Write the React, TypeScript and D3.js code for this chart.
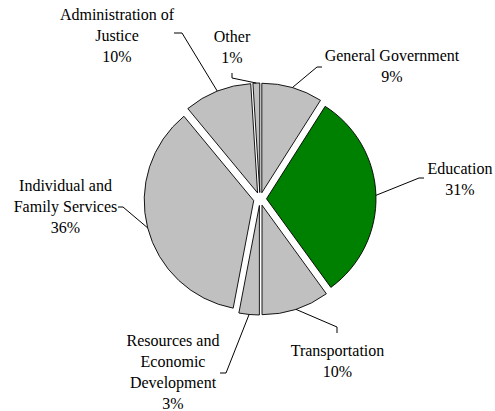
import React from "react";
import * as d3 from "d3";

const categories = [
  "General Government",
  "Education",
  "Transportation",
  "Resources and Economic Development",
  "Individual and Family Services",
  "Administration of Justice",
  "Other",
];
const values = [9, 31, 10, 3, 36, 10, 1];
const labelLines = [
  ["General Government"],
  ["Education"],
  ["Transportation"],
  ["Resources and", "Economic", "Development"],
  ["Individual and", "Family Services"],
  ["Administration of", "Justice"],
  ["Other"],
];
const highlight = "Education";

// layout (positions only)
const W = 495, H = 411;
const CX = 260, CY = 199, R = 109.5, EXPLODE = 6.5;
const LINE_H = 21.2;
const labelLayout = [
  { x: 392, y: 61, start: [322, 67], elbow: [317, 67] },
  { x: 460, y: 173.5, start: [424, 178], elbow: [419, 178] },
  { x: 337.5, y: 355.5, start: [337, 333], elbow: [337, 327] },
  { x: 173, y: 345.5, start: [220, 373], elbow: [226, 373] },
  { x: 65.5, y: 190.5, start: [118, 207], elbow: [123, 207] },
  { x: 117, y: 19.5, start: [174, 33], elbow: [182, 33] },
  { x: 232, y: 41.5, start: [232, 73], elbow: [232, 78] },
];

export default function App() {
  const pie = d3.pie<number>().sort(null).value((d) => d);
  const arcs = pie(values);
  const arcGen = d3.arc<d3.PieArcDatum<number>>().innerRadius(0).outerRadius(R);

  return (
    <svg
      width={W}
      height={H}
      style={{
        position: "absolute",
        left: 0,
        top: 0,
        background: "#fff",
        fontFamily: '"Liberation Serif", "Times New Roman", serif',
        fontSize: 16,
      }}
    >
      <g transform={`translate(${CX},${CY})`}>
        {arcs.map((a, i) => {
          const mid = (a.startAngle + a.endAngle) / 2;
          const dx = Math.sin(mid) * EXPLODE;
          const dy = -Math.cos(mid) * EXPLODE;
          return (
            <path
              key={i}
              d={arcGen(a) || ""}
              transform={`translate(${dx},${dy})`}
              fill={categories[i] === highlight ? "#008000" : "#C0C0C0"}
              stroke="#000"
              strokeWidth={0.9}
              strokeLinejoin="round"
            />
          );
        })}
      </g>
      {arcs.map((a, i) => {
        const mid = (a.startAngle + a.endAngle) / 2;
        const rr = R + EXPLODE;
        const ex = CX + Math.sin(mid) * rr;
        const ey = CY - Math.cos(mid) * rr;
        const L = labelLayout[i];
        const lines = [...labelLines[i], `${values[i]}%`];
        return (
          <g key={"l" + i}>
            <polyline
              points={`${L.start[0]},${L.start[1]} ${L.elbow[0]},${L.elbow[1]} ${ex},${ey}`}
              fill="none"
              stroke="#000"
              strokeWidth={1}
            />
            <text textAnchor="middle" fill="#000">
              {lines.map((t, j) => (
                <tspan key={j} x={L.x} y={L.y + j * LINE_H}>
                  {t}
                </tspan>
              ))}
            </text>
          </g>
        );
      })}
    </svg>
  );
}
